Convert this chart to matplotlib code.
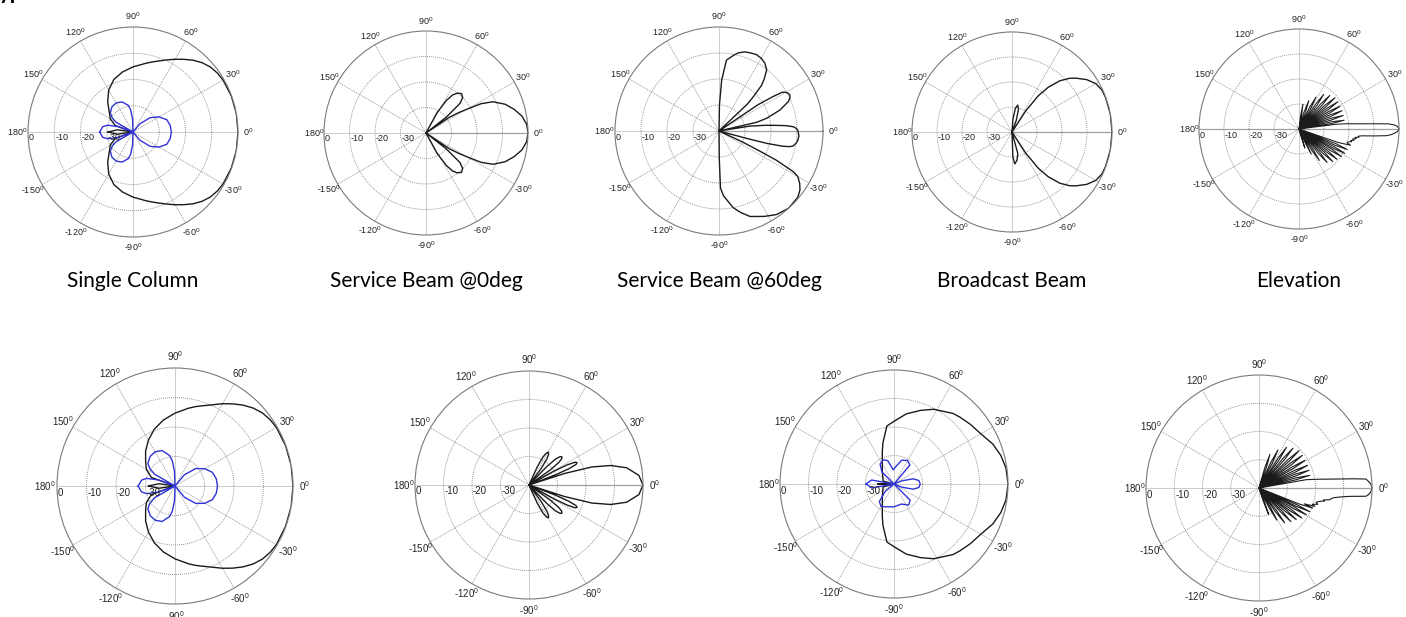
import numpy as np
import matplotlib
matplotlib.use('Agg')
import matplotlib.pyplot as plt
from matplotlib.transforms import offset_copy

plt.rcParams['font.family'] = ['Liberation Sans', 'DejaVu Sans']
plt.rcParams['mathtext.fontset'] = 'custom'
plt.rcParams['mathtext.rm'] = 'Liberation Sans'
plt.rcParams['mathtext.default'] = 'regular'

W, H = 1406, 617

# ---- pattern data: (angle deg, gain dB); the plot centre is -40 dB ----
single_co = [(-180, -30.5), (-172, -34), (-166, -42), (-160, -32.8), (-150, -30), (-140, -28.2),
             (-130, -25), (-120, -21.5), (-110, -18.7), (-100, -16.8), (-90, -15.2), (-80, -13.5),
             (-75, -12.4), (-70, -11.2), (-65, -9.7), (-60, -8), (-55, -6.2), (-50, -4.3), (-45, -2.7),
             (-40, -1.5), (-35, -0.8), (-30, -0.4), (-20, -0.1), (-10, 0), (0, 0), (10, 0), (20, -0.1),
             (30, -0.4), (35, -0.8), (40, -1.5), (45, -2.7), (50, -4.3), (55, -6.2), (60, -8), (65, -9.7),
             (70, -11.2), (75, -12.4), (80, -13.5), (90, -15.2), (100, -16.8), (110, -18.7), (120, -21.5),
             (130, -25), (140, -28.2), (150, -30), (160, -32.8), (166, -42), (172, -34), (180, -30.5)]
single_x = [(-180, -27.3), (-170, -28.3), (-165, -30), (-160, -34), (-156, -45), (-150, -32.5),
            (-146, -30.5), (-140, -28.7), (-130, -27.5), (-120, -27.2), (-110, -27.8), (-100, -29.7),
            (-96, -31.5), (-92, -35), (-88, -45), (-58, -45), (-50, -36), (-40, -31.5), (-30, -28.5),
            (-20, -26.3), (-10, -25.6), (0, -25.4), (10, -25.6), (20, -26.3), (30, -28.5), (40, -31.5),
            (50, -36), (58, -45), (88, -45), (92, -35), (96, -31.5), (100, -29.7), (110, -27.8),
            (120, -27.2), (130, -27.5), (140, -28.7), (146, -30.5), (150, -32.5), (156, -45), (160, -34),
            (165, -30), (170, -28.3), (180, -27.3)]
svc0 = [(-64, -45), (-61.5, -31), (-58, -25), (-55, -21.8), (-52, -20.2), (-48, -19.2), (-44, -20),
        (-41, -22.4), (-38, -30), (-36, -45), (-34, -29), (-32, -25), (-30, -21), (-28, -15.5), (-25, -11),
        (-20, -7), (-15, -4.2), (-10, -1.8), (-5, -0.4), (0, 0), (5, -0.4), (10, -1.8), (15, -4.2),
        (20, -7), (25, -11), (28, -15.5), (30, -21), (32, -25), (34, -29), (36, -45), (38, -30),
        (41, -22.4), (44, -20), (48, -19.2), (52, -20.2), (55, -21.8), (58, -25), (61.5, -31), (64, -45)]
svc60 = [(-90, -45), (-89.5, -30), (-88.5, -18), (-86, -15), (-79.5, -10), (-75, -7.5), (-70, -5),
         (-62, -2.8), (-55.5, -1), (-48, 0), (-40, -0.4), (-36, -1.5), (-33, -3), (-30, -5), (-28.7, -7.4),
         (-27, -15.2), (-26.3, -22), (-25, -30), (-24, -45),
         (-16, -45), (-15, -29), (-14.5, -21), (-13.5, -15), (-12.5, -12.2), (-11.4, -10.9), (-9, -10),
         (-7, -9.5), (-3.6, -9.2), (0, -9.6), (2, -10.3), (3.3, -11.4), (4.5, -14), (5.6, -17.8), (7, -22),
         (9, -28), (10, -45),
         (11, -45), (13, -25), (15, -21), (19, -15.2), (23, -11), (25, -9.9), (27, -9.4), (29, -9.8),
         (30.5, -10.6), (31.5, -11.5), (32.5, -15.3), (34, -22), (36, -45),
         (42, -45), (43.5, -25), (45, -21.3), (47, -16), (49, -13.5), (52, -10.2), (56, -8.5), (60, -7.6),
         (64, -7.3), (68, -7.6), (72, -8), (76, -9), (79, -10.3), (84, -12.6), (87, -20.4), (89, -30), (90, -45)]
broadcast = [(-90, -45), (-88, -30), (-85, -27.2), (-80, -28.5), (-75, -31), (-70, -45),
             (-60, -45), (-57, -30), (-54, -22), (-51, -17), (-47, -12), (-43, -8.5), (-40, -6.5), (-35, -3.5),
             (-30, -1.3), (-25, -0.3), (-20, -0.1), (-10, 0), (0, 0), (10, 0), (20, -0.1), (25, -0.3),
             (30, -1.3), (35, -3.5), (40, -6.5), (43, -8.5), (47, -12), (51, -17), (54, -22), (57, -30),
             (60, -45), (66, -45), (70, -35), (74, -30.5), (78, -29), (82, -30.5), (86, -35), (89, -45)]
elev = [(-90, -45), (-78, -45), (-75, -37), (-73, -32), (-71, -37), (-68.5, -45), (-66, -34), (-64, -28.8),
        (-62, -34), (-60.3, -45), (-58.7, -30), (-57, -25), (-55.3, -30), (-53.5, -45), (-51.6, -27.5),
        (-50, -22.5), (-48.4, -27.5), (-47, -45), (-45.5, -26.2), (-44, -21.2), (-42.5, -26.2), (-41.2, -45),
        (-39.9, -25.5), (-38.5, -20.5), (-37.1, -25.5), (-35.8, -45), (-34.4, -24.7), (-33, -19.7),
        (-31.6, -24.7), (-30.5, -45), (-29.3, -24.2), (-28, -19.2), (-26.7, -24.2), (-25.5, -45),
        (-24.3, -24), (-23, -19), (-21.7, -24), (-20.3, -45), (-19, -23.4), (-17.5, -18.4), (-16, -20),
        (-14.5, -19.5), (-13.5, -18.3), (-12.5, -18.8), (-11.5, -17.5), (-10.5, -18.2), (-9.6, -16.8),
        (-8.6, -17.4), (-7.8, -15.8), (-7, -16.2), (-6.2, -14.7), (-5.3, -10), (-4.4, -5), (-3.5, -3),
        (-2.5, -1.8), (-1.5, -0.6), (0, 0), (1.5, -0.6), (2.5, -2), (3.35, -4.4), (4.3, -12.2), (5.3, -17.5),
        (6.4, -21.2), (7.3, -25), (8, -45), (9.5, -26.6), (11, -21.6), (12.5, -26.6), (14, -45),
        (15.5, -26.5), (17, -21.5), (18.5, -26.5), (20, -45), (21.5, -26.3), (23, -21.3), (24.5, -26.3),
        (26, -45), (27.5, -26.2), (29, -21.2), (30.5, -26.2), (32, -45), (33.5, -26), (35, -21), (36.5, -26),
        (38, -45), (39.5, -25.9), (41, -20.9), (42.5, -25.9), (44.2, -45), (45.8, -26.8), (47.5, -21.8),
        (49.2, -26.8), (51, -45), (52.8, -28), (54.5, -23), (56.2, -28), (58.2, -45), (60, -30.5),
        (62, -25.5), (64, -30.5), (66.5, -45), (68.5, -33), (71, -28), (73.5, -33), (76, -45), (78.5, -35),
        (81, -30), (83.5, -35), (86, -45), (90, -45)]

single2_co = [(-180, -31), (-172, -34.5), (-166, -42), (-160, -31.5), (-150, -28.8), (-140, -27),
              (-130, -24.5), (-120, -22), (-110, -19.5), (-100, -17.3), (-90, -15.3), (-80, -13.2),
              (-75, -12.1), (-70, -11), (-65, -9.6), (-60, -7.8), (-55, -6), (-50, -4.2), (-45, -2.6),
              (-40, -1.4), (-35, -0.7), (-30, -0.3), (-20, -0.1), (-10, 0), (0, 0), (10, 0), (20, -0.1),
              (30, -0.3), (35, -0.7), (40, -1.4), (45, -2.6), (50, -4.2), (55, -6), (60, -7.8), (65, -9.6),
              (70, -11), (75, -12.1), (80, -13.2), (90, -15.3), (100, -17.3), (110, -19.5), (120, -22),
              (130, -24.5), (140, -27), (150, -28.8), (160, -31.5), (166, -42), (172, -34.5), (180, -31)]
single2_x = [(-180, -27.5), (-170, -28.5), (-165, -30), (-160, -34), (-156, -45), (-150, -32),
             (-145, -29.5), (-140, -28), (-130, -26.9), (-120, -26.6), (-110, -27.2), (-100, -29.5),
             (-96, -31.5), (-92, -35), (-88, -45), (-58, -45), (-50, -35), (-40, -30.8), (-30, -28.3),
             (-20, -26.5), (-10, -25.8), (0, -25.6), (10, -25.8), (20, -26.5), (30, -28.3), (40, -30.8),
             (50, -35), (58, -45), (88, -45), (92, -35), (96, -31.5), (100, -29.5), (110, -27.2),
             (120, -26.6), (130, -26.9), (140, -28), (145, -29.5), (150, -32), (156, -45), (160, -34),
             (165, -30), (170, -28.5), (180, -27.5)]
svc0b = [(-68, -45), (-65.5, -33), (-63.5, -29), (-61.5, -27.3), (-59.4, -26.6), (-57.3, -27.3),
         (-55.5, -29), (-53.5, -33), (-51, -45), (-48.5, -45), (-46, -31), (-44.3, -27), (-42.5, -25.3),
         (-40.6, -24.8), (-38.7, -25.3), (-37, -27), (-35.3, -31), (-33, -45), (-30.5, -45), (-29, -30),
         (-27.8, -25), (-26.4, -22), (-25, -21.4), (-23.6, -22), (-22.2, -25), (-21, -30), (-19.5, -45),
         (-18, -27), (-16, -17), (-13.4, -10.5), (-10, -5.2), (-5, -1.3), (0, 0), (5, -1.3), (10, -5.2),
         (13.4, -10.5), (16, -17), (18, -27), (19.5, -45), (21, -30), (22.2, -25), (23.6, -22), (25, -21.4),
         (26.4, -22), (27.8, -25), (29, -30), (30.5, -45), (33, -45), (35.3, -31), (37, -27), (38.7, -25.3),
         (40.6, -24.8), (42.5, -25.3), (44.3, -27), (46, -31), (48.5, -45), (51, -45), (53.5, -33),
         (55.5, -29), (57.3, -27.3), (59.4, -26.6), (61.5, -27.3), (63.5, -29), (65.5, -33), (68, -45)]
broad2_co = [(-180, -34.4), (-176, -37), (-172, -45), (-165, -36), (-150, -35.5), (-135, -34.2),
             (-120, -31.8), (-110, -28), (-105, -25), (-97, -19.5), (-90, -18), (-80, -15), (-70, -12.5),
             (-62, -10.3), (-50, -7.7), (-45, -7), (-38, -6), (-30, -4.8), (-22, -2.6), (-15, -1.2),
             (-8, -0.3), (0, 0), (8, -0.3), (15, -1.2), (22, -2.6), (30, -4.8), (38, -6), (45, -7),
             (50, -7.7), (62, -10.3), (70, -12.5), (80, -15), (90, -18), (97, -19.5), (105, -25),
             (110, -28), (120, -31.8), (135, -34.2), (150, -35.5), (165, -36), (172, -45), (176, -37),
             (180, -34.4)]
broad2_x = [(-180, -30.2), (-170, -32), (-160, -45), (-150, -45), (-140, -36), (-130, -32), (-120, -30.9),
            (-110, -31.5), (-90, -32), (-70, -32.5), (-55, -31), (-45, -32), (-35, -45), (-27, -45),
            (-22, -37), (-15, -33), (-8, -31.2), (0, -30.8), (8, -31.2), (15, -33), (22, -37), (27, -45),
            (40, -40), (50, -31.3), (60, -30.5), (72, -31.2), (85, -34), (93, -35), (105, -31.5),
            (114, -30.7), (125, -31.5), (135, -34), (145, -45), (160, -45), (170, -32), (180, -30.2)]
elev2 = [(-90, -45), (-75, -45), (-72, -35), (-70, -30), (-68, -35), (-65.5, -45), (-62.7, -32), (-61, -27),
         (-59.3, -32), (-57.5, -45), (-55.3, -29.7), (-53.7, -24.7), (-52.1, -29.7), (-50.2, -45),
         (-48, -28.6), (-46.5, -23.6), (-45, -28.6), (-43.4, -45), (-41.8, -27.7), (-40.3, -22.7),
         (-38.8, -27.7), (-37.6, -45), (-36.4, -26.5), (-35, -21.5), (-33.6, -26.5), (-32.2, -45),
         (-30.9, -25.8), (-29.5, -20.8), (-28.1, -25.8), (-27, -45), (-26.2, -25.2), (-25, -20.2),
         (-23.8, -25.2), (-22.8, -45), (-21.7, -24.7), (-20.5, -19.7), (-19.3, -23), (-18.2, -19.2),
         (-17, -20.3), (-15.5, -18.4), (-14, -19.2), (-12.4, -18), (-11.2, -16.3), (-10.5, -16.8),
         (-9.4, -14.6), (-8.5, -14.2), (-7.5, -13.5), (-6.4, -11.3), (-5.3, -7.9), (-4.4, -2), (-3.5, -1.2),
         (-2, -0.4), (0, 0), (2, -0.4), (3.5, -1.2), (4.8, -2), (5.5, -6), (6.9, -13.7), (8.5, -19), (10, -23),
         (11.3, -45), (12.6, -26.5), (14, -21.5), (15.4, -26.5), (16.7, -45), (18.1, -26.2), (19.5, -21.2),
         (20.9, -26.2), (22.2, -45), (23.6, -26), (25, -21), (26.4, -26), (28, -45), (29.6, -26), (31, -21),
         (32.4, -26), (34, -45), (35.6, -25.8), (37, -20.8), (38.4, -25.8), (40, -45), (41.6, -25.6),
         (43, -20.6), (44.4, -25.6), (46.2, -45), (48, -26.5), (49.5, -21.5), (51, -26.5), (52.7, -45),
         (54.5, -27.6), (56, -22.6), (57.5, -27.6), (59.7, -45), (61.8, -30), (63.5, -25), (65.2, -30),
         (67.7, -45), (70, -32.5), (72, -27.5), (74, -32.5), (77, -45), (90, -45)]

captions = ['Single Column', 'Service Beam @0deg', 'Service Beam @60deg', 'Broadcast Beam', 'Elevation']

GRID = '#8a8a8a'
BLACK = '#1b1b1b'
BLUE = '#2f33d6'


def polar_frame(fig, cx, cy, R, fs, solid_right=False, solid_all=False):
    ax = fig.add_axes([(cx - R) / W, (H - cy - R) / H, 2 * R / W, 2 * R / H], projection='polar')
    ax.set_ylim(0, 40)
    ax.set_xticks([])
    ax.set_yticks([])
    ax.grid(False)
    ax.spines['polar'].set_color('#7a7a7a')
    ax.spines['polar'].set_linewidth(0.8)
    t = np.linspace(0, 2 * np.pi, 361)
    for rr in (10, 20, 30):
        ax.plot(t, np.full_like(t, rr), ls=(0, (1.2, 1.2)), color=GRID, lw=0.6)
    for a in range(0, 360, 30):
        th = np.deg2rad(a)
        solid = (solid_all and a in (0, 180)) or (solid_right and a == 0)
        if solid:
            ax.plot([th, th], [0, 40], color='#a0a0a0', lw=0.9)
        else:
            ax.plot([th, th], [0, 40], ls=(0, (1.2, 1.2)), color=GRID, lw=0.6)
        # angle labels sit at 1.1 R; skip those falling outside the picture
        if cx + 1.1 * R * np.cos(th) > W - 4:
            continue
        lab = a if a <= 180 else a - 360
        ax.text(th, 44, r'%d$^{0}$' % lab, ha='center', va='center', fontsize=fs,
                color='#222222', clip_on=False)
    tr = offset_copy(ax.transData, fig=fig, x=1, y=-1.5, units='dots')
    for v, rr in zip(['0', '-10', '-20', '-30'], [40, 30, 20, 10]):
        ax.text(np.pi, rr, v, ha='left', va='top', fontsize=fs, color='#222222', transform=tr)
    return ax


def draw(ax, pattern, color, lw=1.0):
    ang, db = np.array(pattern).T
    ax.plot(np.deg2rad(ang), np.clip(db + 40, 0, None), color=color, lw=lw)


fig = plt.figure(figsize=(W / 100, H / 100), dpi=100)

# top row
ax = polar_frame(fig, 133, 132, 105, 6.5)
draw(ax, single_co, BLACK)
draw(ax, single_x, BLUE)
ax = polar_frame(fig, 426, 133, 102, 6.5, solid_right=True)
draw(ax, svc0, BLACK)
ax = polar_frame(fig, 719, 131, 104, 6.5, solid_right=True)
draw(ax, svc60, BLACK)
ax = polar_frame(fig, 1012, 132, 100, 6.5, solid_right=True)
draw(ax, broadcast, BLACK)
ax = polar_frame(fig, 1299, 129, 100, 6.5, solid_all=True)
draw(ax, elev, BLACK, lw=0.75)

for cx, txt in zip([133, 426, 719, 1012, 1299], captions):
    fig.text(cx / W, 1 - 281 / H, txt, ha='center', va='center', fontsize=15, family='Lato')

# bottom row
ax = polar_frame(fig, 175, 486, 118, 7)
draw(ax, single2_co, BLACK)
draw(ax, single2_x, BLUE)
ax = polar_frame(fig, 529, 485, 114, 7, solid_right=True)
draw(ax, svc0b, BLACK)
ax = polar_frame(fig, 894, 484, 114, 7)
draw(ax, broad2_co, BLACK)
draw(ax, broad2_x, BLUE)
ax = polar_frame(fig, 1259, 488, 113, 7, solid_right=True)
draw(ax, elev2, BLACK, lw=0.8)

# cropped heading at the very top-left
fig.text(-0.001, 1.012, 'yp', ha='left', va='center', fontsize=16, fontweight='bold', family='Lato')

fig.savefig('out.png', dpi=100)
